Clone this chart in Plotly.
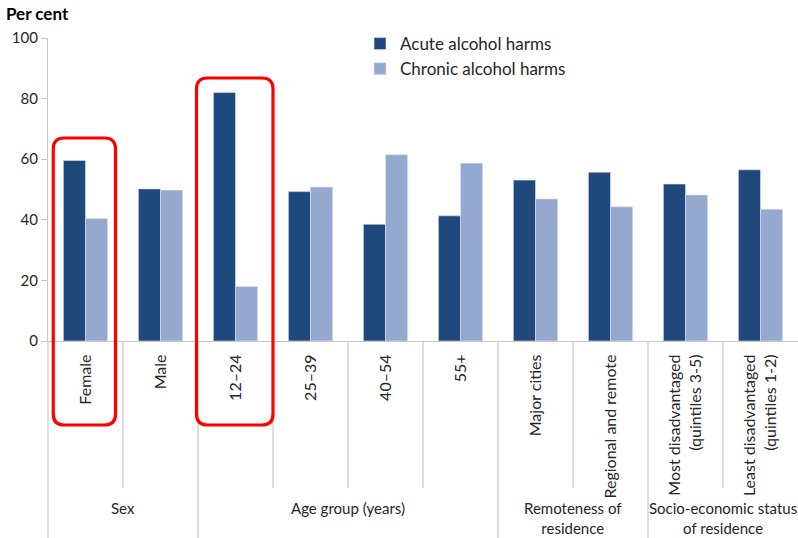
import plotly.graph_objects as go

categories = ["Female", "Male", "12–24", "25–39", "40–54", "55+", "Major cities",
              "Regional and remote", "Most disadvantaged<br>(quintiles 3-5)",
              "Least disadvantaged<br>(quintiles 1-2)"]
acute = [59.6, 50.2, 82.0, 49.3, 38.5, 41.3, 53.1, 55.7, 51.8, 56.5]
chronic = [40.4, 49.8, 18.0, 50.8, 61.5, 58.7, 46.9, 44.3, 48.2, 43.5]
groups = ["Sex", "Age group (years)", "Remoteness of<br>residence",
          "Socio-economic status<br>of residence"]
group_spans = [(0, 1), (2, 5), (6, 7), (8, 9)]
y_ticks = [0, 20, 40, 60, 80, 100]
highlight = [0, 2]

FONT = "Lato"
DARK = "#1F497D"
LIGHT = "#95A9D0"
GRID = "#C8C8C8"
TXT = "#262626"

x = list(range(len(categories)))

fig = go.Figure()
fig.add_trace(go.Bar(x=x, y=acute, name="Acute alcohol harms",
                     marker=dict(color=DARK, line=dict(color="#DCE3EE", width=0.6))))
fig.add_trace(go.Bar(x=x, y=chronic, name="Chronic alcohol harms",
                     marker=dict(color=LIGHT, line=dict(color="#DCE3EE", width=0.6))))

W, H = 798, 538
ml, mr, mt, mb = 48, 0, 38, 197
plot_h = H - mt - mb
plot_w = W - ml - mr


def py(pix):
    return (H - mb - pix) / plot_h


shapes = []
group_bounds = [s[1] + 0.5 for s in group_spans[:-1]]
for i in range(len(categories) - 1):
    b = i + 0.5
    bottom = py(538) if b in group_bounds else py(488)
    shapes.append(dict(type="line", xref="x", yref="paper", x0=b, x1=b, y0=0, y1=bottom,
                       line=dict(color=GRID, width=1.2)))
shapes.append(dict(type="line", xref="paper", yref="paper", x0=0, x1=0, y0=0, y1=py(538),
                   line=dict(color=GRID, width=1.2)))


def rounded(x0, x1, y0, y1, rx, ry):
    return (f"M{x0+rx},{y1} L{x1-rx},{y1} Q{x1},{y1} {x1},{y1-ry} "
            f"L{x1},{y0+ry} Q{x1},{y0} {x1-rx},{y0} L{x0+rx},{y0} "
            f"Q{x0},{y0} {x0},{y0+ry} L{x0},{y1-ry} Q{x0},{y1} {x0+rx},{y1} Z")


cat_w = plot_w / len(categories)
rx = 11 / cat_w
ry = 11 / plot_h
box_extents = {0: (-0.43, 0.40, py(138)), 2: (-0.52, 0.50, py(78))}
for idx in highlight:
    a, b, top = box_extents[idx]
    shapes.append(dict(type="path", xref="x", yref="paper",
                       path=rounded(idx + a, idx + b, py(425), top, rx, ry),
                       line=dict(color="#FF0000", width=3.2), layer="above"))

annotations = []
for g, (s, e) in zip(groups, group_spans):
    annotations.append(dict(text=g, x=(s + e) / 2, xref="x", y=py(497), yref="paper",
                            xanchor="center", yanchor="top", showarrow=False,
                            font=dict(family=FONT, size=15, color=TXT)))
annotations.append(dict(text="<b>Per cent</b>", x=-44 / plot_w, xref="paper",
                        y=py(14), yref="paper", xanchor="left", yanchor="middle",
                        showarrow=False, font=dict(family=FONT, size=17, color="#000000")))

fig.update_layout(
    width=W, height=H,
    margin=dict(l=ml, r=mr, t=mt, b=mb, autoexpand=False),
    paper_bgcolor="white", plot_bgcolor="white",
    barmode="group", bargap=0.41, bargroupgap=0,
    font=dict(family=FONT, size=15, color=TXT),
    showlegend=True,
    legend=dict(x=(360 - ml) / plot_w, y=py(26), xanchor="left", yanchor="top",
                bgcolor="rgba(0,0,0,0)", font=dict(family=FONT, size=17, color=TXT),
                itemwidth=30, tracegroupgap=0),
    xaxis=dict(range=[-0.5, len(categories) - 0.5], tickvals=x, ticktext=categories,
               tickangle=-90, showline=True, linecolor=GRID, linewidth=1.2,
               showgrid=False, zeroline=False, ticks="", ticklabelstandoff=6,
               tickfont=dict(family=FONT, size=16, color=TXT)),
    yaxis=dict(range=[0, 100], tickvals=y_ticks, showline=True, linecolor=GRID, linewidth=1.2,
               showgrid=False, zeroline=False, ticks="outside", ticklen=6, tickcolor=GRID,
               tickwidth=1.2, tickfont=dict(family=FONT, size=15, color=TXT)),
    shapes=shapes, annotations=annotations,
)

fig.write_html("out.html")
